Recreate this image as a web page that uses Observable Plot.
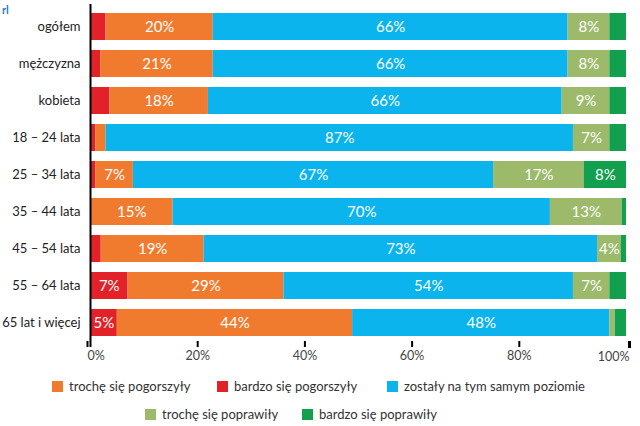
<!DOCTYPE html>
<html>
<head>
<meta charset="utf-8">
<script src="https://cdn.jsdelivr.net/npm/d3@7"></script>
<script src="https://cdn.jsdelivr.net/npm/@observablehq/plot@0.6"></script>
<style>
  html, body { margin: 0; padding: 0; background: #fff; }
  #wrap { position: relative; width: 640px; height: 426px; overflow: hidden; font-family: Lato, "Open Sans", sans-serif; }
  #chart { position: absolute; left: 0; top: 0; }
  .corner { position: absolute; left: 2px; top: 3px; font-size: 11px; color: #2f7db8; font-weight: bold; }
  .lg { position: absolute; display: flex; align-items: center; font-size: 13px; color: #333; white-space: nowrap; }
  .lg span.sw { display: inline-block; width: 11px; height: 11px; margin-right: 6px; }
</style>
</head>
<body>
<div id="wrap">
  <div class="corner">rl</div>
  <div id="chart"></div>
  <div id="legend"></div>
</div>
<script>
// Categories (rows, top to bottom)
const categories = ["ogółem", "mężczyzna", "kobieta", "18 – 24 lata", "25 – 34 lata", "35 – 44 lata", "45 – 54 lata", "55 – 64 lata", "65 lat i więcej"];

// Series names
const seriesNames = ["bardzo się pogorszyły", "trochę się pogorszyły", "zostały na tym samym poziomie", "trochę się poprawiły", "bardzo się poprawiły"];
const legendOrder = ["trochę się pogorszyły", "bardzo się pogorszyły", "zostały na tym samym poziomie", "trochę się poprawiły", "bardzo się poprawiły"];
const seriesColors = ["#e32129", "#f07b2f", "#0bb4ec", "#9dba6b", "#13a04e"];

// Values (%), per series, in category order
const bardzoPogorszyly = [2.9, 1.9, 3.6, 1.0, 1.0, 0, 2.0, 7.0, 5.0];
const trochePogorszyly = [20.0, 21.0, 18.4, 1.9, 7.0, 15.4, 19.2, 29.1, 43.9];
const bezZmian = [66.2, 66.2, 66.0, 87.2, 67.2, 70.4, 73.4, 54.0, 48.0];
const trochePoprawily = [7.8, 7.8, 8.9, 6.8, 16.9, 13.4, 4.4, 6.8, 1.0];
const bardzoPoprawily = [3.1, 3.1, 3.1, 3.1, 7.9, 0.8, 1.0, 3.1, 2.1];

// Tick values
const xTicks = [0, 20, 40, 60, 80, 100];

const seriesValues = [bardzoPogorszyly, trochePogorszyly, bezZmian, trochePoprawily, bardzoPoprawily];
const data = [];
categories.forEach((c, i) => {
  seriesNames.forEach((s, j) => {
    data.push({category: c, series: s, value: seriesValues[j][i]});
  });
});

const fmt = d => d + "%";
const labelText = d => d.value >= 4 ? Math.round(d.value) + "%" : null;

const stackOpts = {x: "value", y: "category", z: "series", order: seriesNames};

const chart = Plot.plot({
  width: 640,
  height: 366,
  marginLeft: 90,
  marginRight: 14,
  marginTop: 9,
  marginBottom: 25,
  style: {fontFamily: "Lato, 'Open Sans', sans-serif", background: "transparent"},
  x: {domain: [0, 100]},
  y: {domain: categories, paddingInner: 0.26, paddingOuter: 0},
  color: {domain: seriesNames, range: seriesColors},
  marks: [
    Plot.barX(data, Plot.stackX({...stackOpts, fill: "series"})),
    Plot.text(data, Plot.stackX({...stackOpts, text: labelText, fill: "white", fontSize: 15})),
    Plot.axisY({tickSize: 0, tickPadding: 10, fontSize: 13, fill: "#222", label: null}),
    Plot.axisX(xTicks.filter(t => t === 0), {anchor: "bottom", tickSize: 6, strokeWidth: 2, stroke: "#000", tickFormat: fmt, textAnchor: "start", dx: -3, fontSize: 12.5, fill: "#444", label: null, tickPadding: 4}),
    Plot.axisX(xTicks.filter(t => t > 0 && t < 100), {anchor: "bottom", tickSize: 6, strokeWidth: 2, stroke: "#000", tickFormat: fmt, fontSize: 12.5, fill: "#444", label: null, tickPadding: 4}),
    Plot.axisX(xTicks.filter(t => t === 100), {anchor: "bottom", tickSize: 7, strokeWidth: 3, stroke: "#000", tickFormat: fmt, textAnchor: "end", dx: 3, fontSize: 12.5, fill: "#444", label: null, tickPadding: 4}),
    Plot.ruleX([0], {stroke: "#000", strokeWidth: 2, insetTop: -5, insetBottom: -6})
  ]
});
document.getElementById("chart").appendChild(chart);

// Legend (HTML, below the SVG)
const legendPos = [
  {left: 52, top: 378}, {left: 217, top: 378}, {left: 387, top: 378},
  {left: 145, top: 406}, {left: 302, top: 406}
];
const legend = document.getElementById("legend");
legendOrder.forEach((s, k) => {
  const color = seriesColors[seriesNames.indexOf(s)];
  const item = document.createElement("div");
  item.className = "lg";
  item.style.left = legendPos[k].left + "px";
  item.style.top = legendPos[k].top + "px";
  item.innerHTML = `<span class="sw" style="background:${color}"></span><span>${s}</span>`;
  legend.appendChild(item);
});
</script>
</body>
</html>
